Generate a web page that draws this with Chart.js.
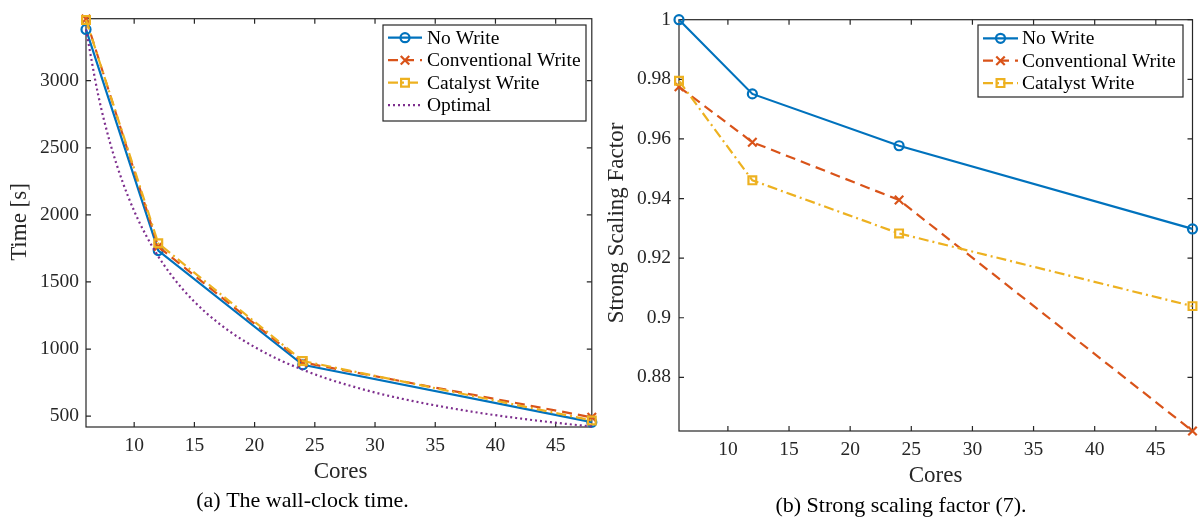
<!DOCTYPE html>
<html>
<head>
<meta charset="utf-8">
<script src="https://cdn.jsdelivr.net/npm/chart.js@4/dist/chart.umd.min.js"></script>
<style>
  html, body { margin: 0; padding: 0; background: #fff; }
  #wrap { position: relative; width: 1203px; height: 528px; overflow: hidden; background: #fff; }
  canvas { position: absolute; top: 0; }
</style>
</head>
<body>
<div id="wrap">
  <canvas id="timeChart" width="600" height="528" style="left:0;width:600px;height:528px"></canvas>
  <canvas id="scaleChart" width="603" height="528" style="left:600px;width:603px;height:528px"></canvas>
</div>
<script>
// ---- measured runs ----
const cores = [6, 12, 24, 48];

// wall-clock time [s]
const timeNoWrite      = [3382, 1734, 883, 455];
const timeConventional = [3460, 1764, 900, 491];
const timeCatalyst     = [3453, 1788, 911, 468];

// ideal scaling curve
const optimalCores = [6, 7, 8, 9, 10, 11, 12, 13, 14, 15, 16, 18, 20, 22, 24, 26, 28, 30, 32, 34, 36, 38, 40, 42, 44, 46, 48];
const optimalTime  = [3382, 2899, 2537, 2255, 2029, 1845, 1691, 1561, 1449, 1353, 1268, 1127, 1015, 922, 846, 780, 725, 676, 634, 597, 564, 534, 507, 483, 461, 441, 423];

// strong scaling factor
const ssfNoWrite      = [1.0, 0.9751, 0.9577, 0.9298];
const ssfConventional = [0.9775, 0.9589, 0.9395, 0.8620];
const ssfCatalyst     = [0.9795, 0.9461, 0.9283, 0.9039];

// ticks
const coreTicks = [10, 15, 20, 25, 30, 35, 40, 45];
const timeTicks = [500, 1000, 1500, 2000, 2500, 3000];
const timeTickLabels = ['500', '1000', '1500', '2000', '2500', '3000'];
const ssfTicks = [0.88, 0.9, 0.92, 0.94, 0.96, 0.98, 1];
const ssfTickLabels = ['0.88', '0.9', '0.92', '0.94', '0.96', '0.98', '1'];

// ---- styling ----
const SERIF = '"Liberation Serif", "Times New Roman", serif';
const AXIS_COLOR = '#262626';
const BLUE = '#0072BD', ORANGE = '#D95319', YELLOW = '#EDB120', PURPLE = '#7E2F8E';
const LINE_W = 2.2;

function points(xs, ys) { return xs.map((x, i) => ({ x: x, y: ys[i] })); }

function series(label, xs, ys, color, dash, marker, radius, order) {
  return {
    label: label,
    data: points(xs, ys),
    borderColor: color,
    backgroundColor: 'rgba(0,0,0,0)',
    borderWidth: LINE_W,
    borderDash: dash,
    pointStyle: marker || 'circle',
    pointRadius: marker ? radius : 0,
    pointBorderWidth: LINE_W,
    pointBorderColor: color,
    pointBackgroundColor: 'rgba(0,0,0,0)',
    tension: 0,
    clip: false,
    order: order
  };
}

function drawMarker(ctx, style, x, y, r, color) {
  ctx.save();
  ctx.strokeStyle = color;
  ctx.lineWidth = LINE_W;
  ctx.setLineDash([]);
  ctx.beginPath();
  if (style === 'circle') {
    ctx.arc(x, y, r, 0, Math.PI * 2);
  } else if (style === 'rect') {
    const s = r * Math.SQRT1_2;
    ctx.rect(x - s, y - s, 2 * s, 2 * s);
  } else if (style === 'crossRot') {
    const s = r * Math.SQRT1_2;
    ctx.moveTo(x - s, y - s); ctx.lineTo(x + s, y + s);
    ctx.moveTo(x - s, y + s); ctx.lineTo(x + s, y - s);
  }
  ctx.stroke();
  ctx.restore();
}

// box around the plot area with inward tick marks on all four sides
const framePlugin = {
  id: 'frame',
  beforeDatasetsDraw(chart, args, opts) {
    const { ctx, chartArea: a, scales } = chart;
    ctx.save();
    ctx.strokeStyle = AXIS_COLOR;
    ctx.lineWidth = 1.2;
    ctx.setLineDash([]);
    ctx.strokeRect(a.left, a.top, a.right - a.left, a.bottom - a.top);
    const len = 5;
    ctx.beginPath();
    opts.xTicks.forEach(v => {
      const px = scales.x.getPixelForValue(v);
      ctx.moveTo(px, a.bottom); ctx.lineTo(px, a.bottom - len);
      ctx.moveTo(px, a.top); ctx.lineTo(px, a.top + len);
    });
    opts.yTicks.forEach(v => {
      const py = scales.y.getPixelForValue(v);
      ctx.moveTo(a.left, py); ctx.lineTo(a.left + len, py);
      ctx.moveTo(a.right, py); ctx.lineTo(a.right - len, py);
    });
    ctx.stroke();
    ctx.restore();
  }
};

// axis titles, caption and legend box
const annotatePlugin = {
  id: 'annotate',
  afterDraw(chart, args, o) {
    const ctx = chart.ctx;
    ctx.save();
    ctx.fillStyle = AXIS_COLOR;
    ctx.textAlign = 'center';
    ctx.textBaseline = 'middle';
    ctx.font = '23px ' + SERIF;
    ctx.fillText(o.xTitle, o.xTitlePos[0], o.xTitlePos[1]);
    ctx.save();
    ctx.translate(o.yTitlePos[0], o.yTitlePos[1]);
    ctx.rotate(-Math.PI / 2);
    ctx.fillText(o.yTitle, 0, 0);
    ctx.restore();
    ctx.fillStyle = '#000';
    ctx.font = '22px ' + SERIF;
    ctx.fillText(o.caption, o.captionPos[0], o.captionPos[1]);

    // legend
    const L = o.legend;
    ctx.fillStyle = '#fff';
    ctx.fillRect(L.left, L.top, L.right - L.left, L.bottom - L.top);
    ctx.strokeStyle = AXIS_COLOR;
    ctx.lineWidth = 1.2;
    ctx.strokeRect(L.left, L.top, L.right - L.left, L.bottom - L.top);
    ctx.font = '19.5px ' + SERIF;
    ctx.textAlign = 'left';
    chart.data.datasets.forEach((ds, i) => {
      const y = L.firstRow + i * L.rowGap;
      ctx.save();
      ctx.strokeStyle = ds.borderColor;
      ctx.lineWidth = ds.borderWidth;
      ctx.setLineDash(ds.borderDash || []);
      ctx.beginPath();
      ctx.moveTo(L.sampleLeft, y);
      ctx.lineTo(L.sampleRight, y);
      ctx.stroke();
      ctx.restore();
      if (ds.pointRadius > 0) {
        drawMarker(ctx, ds.pointStyle, (L.sampleLeft + L.sampleRight) / 2, y, ds.pointRadius, ds.borderColor);
      }
      ctx.fillStyle = '#000';
      ctx.fillText(ds.label, L.textLeft, y + 1);
    });
    ctx.restore();
  }
};

function makeChart(id, cfg) {
  const tickFont = { family: SERIF, size: 19.5 };
  return new Chart(document.getElementById(id), {
    type: 'line',
    data: { datasets: cfg.datasets },
    options: {
      responsive: false,
      animation: false,
      devicePixelRatio: 1,
      events: [],
      layout: { padding: cfg.padding },
      plugins: {
        legend: { display: false },
        tooltip: { enabled: false },
        title: { display: false },
        frame: { xTicks: coreTicks, yTicks: cfg.yTicks },
        annotate: cfg.annotate
      },
      scales: {
        x: {
          type: 'linear',
          min: 6, max: 48,
          afterBuildTicks: s => { s.ticks = coreTicks.map(v => ({ value: v })); },
          afterFit: s => { s.height = cfg.xAxisHeight; },
          grid: { display: false, drawTicks: false },
          border: { display: false },
          ticks: { font: tickFont, color: AXIS_COLOR, padding: 7, maxRotation: 0, autoSkip: false,
                   callback: v => String(v) }
        },
        y: {
          type: 'linear',
          min: cfg.yMin, max: cfg.yMax,
          afterBuildTicks: s => { s.ticks = cfg.yTicks.map(v => ({ value: v })); },
          afterFit: s => { s.width = cfg.yAxisWidth; },
          grid: { display: false, drawTicks: false },
          border: { display: false },
          ticks: { font: tickFont, color: AXIS_COLOR, padding: cfg.yPad, autoSkip: false,
                   callback: (v, i) => cfg.yTickLabels[i] }
        }
      }
    },
    plugins: [framePlugin, annotatePlugin]
  });
}

makeChart('timeChart', {
  datasets: [
    series('No Write', cores, timeNoWrite, BLUE, [], 'circle', 4.5, 4),
    series('Conventional Write', cores, timeConventional, ORANGE, [10, 6], 'crossRot', 6, 3),
    series('Catalyst Write', cores, timeCatalyst, YELLOW, [10, 4, 2, 4], 'rect', 5.5, 2),
    Object.assign(series('Optimal', optimalCores, optimalTime, PURPLE, [2, 3], null, 0, 1),
                  { cubicInterpolationMode: 'monotone' })
  ],
  padding: { left: 0, right: 5, top: 16, bottom: 0 },
  xAxisHeight: 101,
  yAxisWidth: 86,
  yPad: 7,
  yMin: 419, yMax: 3462,
  yTicks: timeTicks,
  yTickLabels: timeTickLabels,
  annotate: {
    xTitle: 'Cores', xTitlePos: [340.5, 472],
    yTitle: 'Time [s]', yTitlePos: [20, 222],
    caption: '(a) The wall-clock time.', captionPos: [302.5, 501],
    legend: { left: 383, right: 586, top: 25, bottom: 121, firstRow: 37.7, rowGap: 22.5,
              sampleLeft: 388, sampleRight: 422, textLeft: 427 }
  }
});

makeChart('scaleChart', {
  datasets: [
    series('No Write', cores, ssfNoWrite, BLUE, [], 'circle', 4.5, 3),
    series('Conventional Write', cores, ssfConventional, ORANGE, [10, 6], 'crossRot', 6, 2),
    series('Catalyst Write', cores, ssfCatalyst, YELLOW, [10, 4, 2, 4], 'rect', 5.5, 1)
  ],
  padding: { left: 0, right: 10.5, top: 16, bottom: 0 },
  xAxisHeight: 97,
  yAxisWidth: 79,
  yPad: 8,
  yMin: 0.862, yMax: 1.0,
  yTicks: ssfTicks,
  yTickLabels: ssfTickLabels,
  annotate: {
    xTitle: 'Cores', xTitlePos: [335.6, 476],
    yTitle: 'Strong Scaling Factor', yTitlePos: [17, 223],
    caption: '(b) Strong scaling factor (7).', captionPos: [301, 506],
    legend: { left: 378, right: 583, top: 25, bottom: 97, firstRow: 38.3, rowGap: 22.4,
              sampleLeft: 383, sampleRight: 418, textLeft: 422 }
  }
});
</script>
</body>
</html>
